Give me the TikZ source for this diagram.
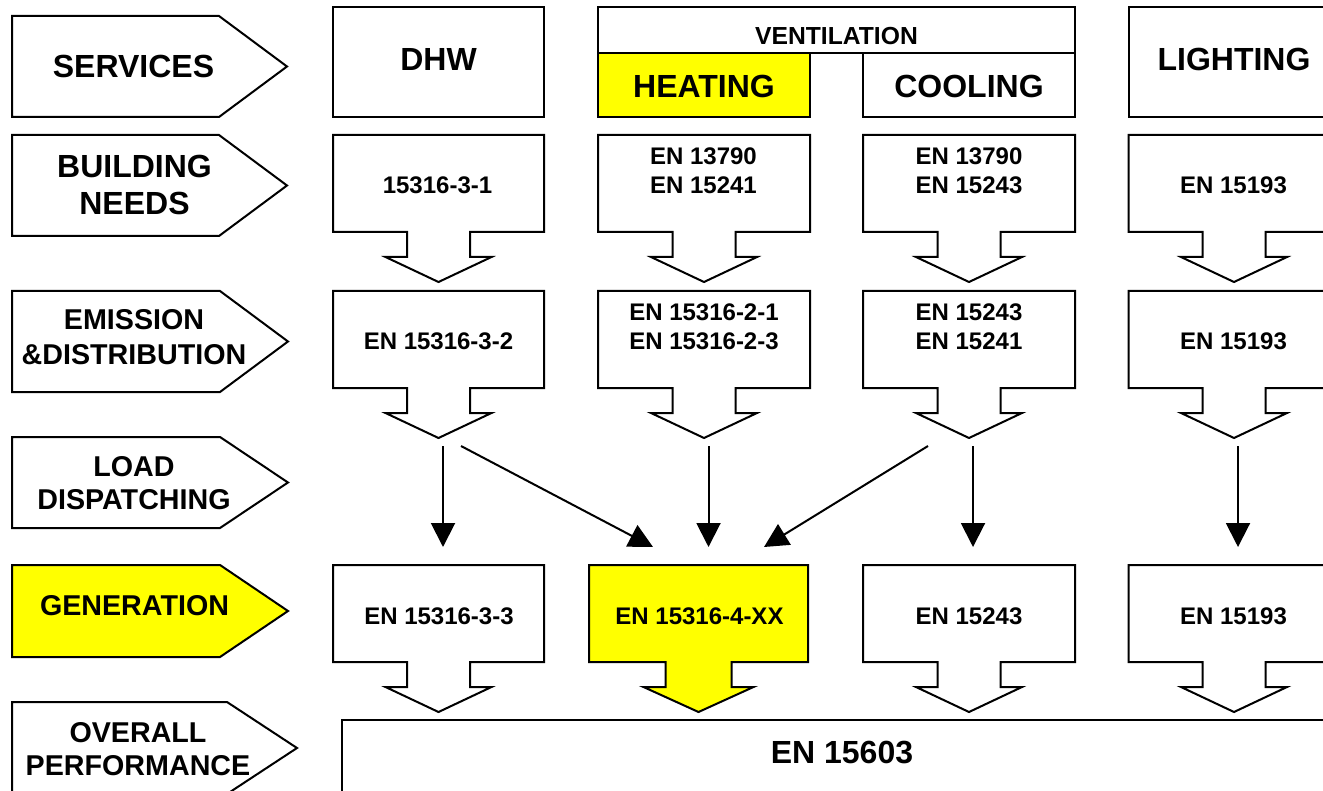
\documentclass[tikz,border=0pt]{standalone}
\usepackage{fontspec}
\setmainfont{Liberation Sans}
\usetikzlibrary{arrows.meta,fadings}
\definecolor{hlyellow}{RGB}{255,255,0}
\definecolor{bgtint}{RGB}{238,242,250}
\tikzfading[name=softedge,top color=transparent!100,middle color=transparent!0,bottom color=transparent!100]
\newcommand\blockarr[5]{%
 ({#1-#3},{#2}) -- ({#1+#3},{#2}) -- ({#1+#3},{#2+97}) -- ({#1+#4},{#2+97}) --
 ({#1+#4},{#2+122}) -- ({#1+#5},{#2+122}) -- ({#1},{#2+147}) -- ({#1-#5},{#2+122}) --
 ({#1-#4},{#2+122}) -- ({#1-#4},{#2+97}) -- ({#1-#3},{#2+97}) -- cycle}
\newcommand\pent[4]{% #1 top, #2 bottom, #3 shoulder x, #4 tip x
 (12,{#1}) -- ({#3},{#1}) -- ({#4},{(#1+#2)/2}) -- ({#3},{#2}) -- (12,{#2}) -- cycle}
\begin{document}
\begin{tikzpicture}[x=0.75pt,y=-0.75pt,line join=miter,
  outl/.style={draw=black,line width=1.5pt},
  big/.style={font=\fontsize{24}{28}\selectfont\bfseries,inner sep=0pt,align=center},
  lab/.style={font=\fontsize{21.5}{24.75}\selectfont\bfseries,inner sep=0pt,align=center},
  std/.style={font=\fontsize{18}{21.75}\selectfont\bfseries,inner sep=0pt,align=center},
  vent/.style={font=\fontsize{18.5}{22}\selectfont\bfseries,inner sep=0pt},
  disp/.style={line width=1.5pt,-{Triangle[length=18pt,width=18pt]}}]
\useasboundingbox (0,0) rectangle (1323,791);
\clip (0,0) rectangle (1323,791);
% faint background tint on the right
\shade[left color=white,right color=bgtint,path fading=softedge] (1060,150) rectangle (1323,760);

% ---- left row labels ----
\draw[outl] \pent{16}{117}{219}{287};
\node[big] (lservices) at (133.5,66.5) {SERVICES};
\draw[outl] \pent{135}{236}{219}{287};
\node[big,font=\fontsize{24}{27.4}\selectfont\bfseries] (lneeds) at (134.5,185) {BUILDING\\NEEDS};
\draw[outl] \pent{291}{392}{220}{288};
\node[lab,font=\fontsize{21.5}{25.9}\selectfont\bfseries] (lemis) at (134,337) {EMISSION\\\&DISTRIBUTION};
\draw[outl] \pent{437}{528}{220}{288};
\node[lab] (lload) at (134,483.5) {LOAD\\DISPATCHING};
\draw[outl,fill=hlyellow] \pent{565}{657}{220}{288};
\node[lab] (lgen) at (134.5,605.5) {GENERATION};
\draw[outl] \pent{702}{794}{227}{297};
\node[lab] (lover) at (138,749) {OVERALL\\PERFORMANCE};

% ---- services row ----
\draw[outl] (333,7) rectangle (544,117);
\node[big] (sdhw) at (438.5,59) {DHW};
\draw[outl] (598,7) rectangle (1075,53);
\node[vent] (svent) at (836.5,36) {VENTILATION};
\draw[outl,fill=hlyellow] (598,53) rectangle (810,117);
\node[big] (sheat) at (704,86) {HEATING};
\draw[outl] (863,53) rectangle (1075,117);
\node[big] (scool) at (969,86) {COOLING};
\draw[outl] (1128.5,7) rectangle (1339.5,117);
\node[big] (slight) at (1234,59) {LIGHTING};

% ---- building needs row ----
\draw[outl] \blockarr{438.5}{135}{105.5}{31.5}{53};
\node[std] (ndhw) at (437.5,185.5) {15316-3-1};
\draw[outl] \blockarr{704}{135}{106}{31.5}{53};
\node[std] (nheat) at (703.5,171) {EN 13790\\EN 15241};
\draw[outl] \blockarr{969}{135}{106}{31.5}{53};
\node[std] (ncool) at (969,171) {EN 13790\\EN 15243};
\draw[outl] \blockarr{1234}{135}{105.5}{31.5}{53};
\node[std] (nlight) at (1233.5,185.5) {EN 15193};

% ---- emission & distribution row ----
\draw[outl] \blockarr{438.5}{291}{105.5}{31.5}{53};
\node[std] (edhw) at (438.5,341) {EN 15316-3-2};
\draw[outl] \blockarr{704}{291}{106}{31.5}{53};
\node[std] (eheat) at (704,327) {EN 15316-2-1\\EN 15316-2-3};
\draw[outl] \blockarr{969}{291}{106}{31.5}{53};
\node[std] (ecool) at (969,327) {EN 15243\\EN 15241};
\draw[outl] \blockarr{1234}{291}{105.5}{31.5}{53};
\node[std] (elight) at (1233.5,341) {EN 15193};

% ---- generation row ----
\draw[outl] \blockarr{438.5}{565}{105.5}{31.5}{53};
\node[std] (gdhw) at (439,616) {EN 15316-3-3};
\draw[outl,fill=hlyellow] \blockarr{698.5}{565}{109.5}{33}{55};
\node[std] (gheat) at (699.5,616) {EN 15316-4-XX};
\draw[outl] \blockarr{969}{565}{106}{31.5}{53};
\node[std] (gcool) at (969,616) {EN 15243};
\draw[outl] \blockarr{1234}{565}{105.5}{31.5}{53};
\node[std] (glight) at (1233.5,616) {EN 15193};

% ---- overall performance ----
\fill[white] (342,720) rectangle (1342,810);
\draw[outl] (342,720) rectangle (1342,810);
\node[big] (overall) at (842,752.5) {EN 15603};

% ---- load dispatching arrows ----
\coordinate (d1s) at (443,446);   \coordinate (d1e) at (443,547);
\coordinate (d2s) at (461,446);   \coordinate (d2e) at (653,547);
\coordinate (d3s) at (708.5,446); \coordinate (d3e) at (708.5,547);
\coordinate (d4s) at (928,446);   \coordinate (d4e) at (764,547);
\coordinate (d5s) at (973,446);   \coordinate (d5e) at (973,547);
\coordinate (d6s) at (1238,446);  \coordinate (d6e) at (1238,547);
\draw[disp] (d1s) -- (d1e);
\draw[disp] (d2s) -- (d2e);
\draw[disp] (d3s) -- (d3e);
\draw[disp] (d4s) -- (d4e);
\draw[disp] (d5s) -- (d5e);
\draw[disp] (d6s) -- (d6e);
\end{tikzpicture}
\end{document}
